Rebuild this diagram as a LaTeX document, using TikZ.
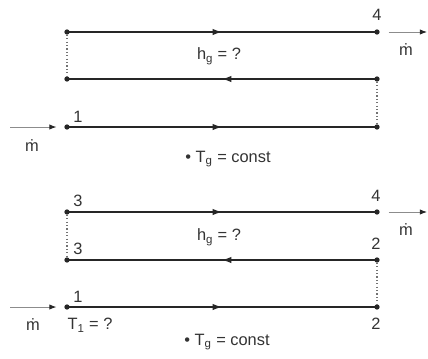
\documentclass[tikz,border=0pt]{standalone}
\usepackage{fontspec}
\setmainfont{Liberation Sans}
\usetikzlibrary{arrows.meta,decorations.markings}

\tikzset{
  pipe/.style={line width=1.1pt, black!85, postaction={decorate},
    decoration={markings, mark=at position 0.5 with {\arrow{Latex[length=8pt,width=5.5pt]}}}},
  feed/.style={black!45, line width=0.8pt, -{Latex[length=6pt,width=4.5pt,black!85]}},
  link/.style={black!55, dotted, line width=0.9pt},
  pt/.style={circle, fill=black!85, inner sep=0pt, minimum size=4.5pt},
  lbl/.style={text=black!80, font=\fontsize{14}{16}\selectfont, inner sep=1pt},
}

\begin{document}
\begin{tikzpicture}[x=0.03cm, y=-0.03cm]
    \useasboundingbox (0,0) rectangle (428,358);
    % Upper exchanger
    \node[pt] (a1) at (67,32) {};
    \node[pt] (a4) at (377,32) {};
    \node[pt] (b1) at (67,79) {};
    \node[pt] (b2) at (377,79) {};
    \node[pt] (c1) at (67,127) {};
    \node[pt] (c2) at (377,127) {};
    \draw[pipe] (a1.center) -- (a4.center);
    \draw[pipe] (b2.center) -- (b1.center);
    \draw[pipe] (c1.center) -- (c2.center);
    \draw[link] (a1) -- (b1);
    \draw[link] (b2) -- (c2);
    % Mass flow in and out
    \coordinate (inA) at (10,127);
    \coordinate (outA) at (427,32);
    \draw[feed, shorten >=9pt] (inA) -- (c1.center);
    \draw[feed, shorten <=10pt] (a4.center) -- (outA);
    \node[lbl] (mA) at (32,146) {\.{m}};
    \node[lbl] (mA2) at (406,50) {\.{m}};
    % Labels
    \node[lbl] (nA4) at (377,15) {4};
    \node[lbl] (nA1) at (78,117) {1};
    \node[lbl] (hA) at (219,56) {h\textsubscript{g} = ?};
    \node[lbl] (tA) at (228,159) {\textbullet\ T\textsubscript{g} = const};

    % Lower exchanger
    \node[pt] (d1) at (67,212) {};
    \node[pt] (d4) at (377,212) {};
    \node[pt] (e1) at (67,260) {};
    \node[pt] (e2) at (377,260) {};
    \node[pt] (f1) at (67,307) {};
    \node[pt] (f2) at (377,307) {};
    \draw[pipe] (d1.center) -- (d4.center);
    \draw[pipe] (e2.center) -- (e1.center);
    \draw[pipe] (f1.center) -- (f2.center);
    \draw[link] (d1) -- (e1);
    \draw[link] (e2) -- (f2);
    % Mass flow in and out
    \coordinate (inB) at (10,307);
    \coordinate (outB) at (427,212);
    \draw[feed, shorten >=9pt] (inB) -- (f1.center);
    \draw[feed, shorten <=10pt] (d4.center) -- (outB);
    \node[lbl] (mB) at (33,325) {\.{m}};
    \node[lbl] (mB2) at (406,230) {\.{m}};
    % Labels
    \node[lbl] (nB3) at (78,201) {3};
    \node[lbl] (nB3b) at (78,249) {3};
    \node[lbl] (nB4) at (376,196) {4};
    \node[lbl] (nB2) at (376,244) {2};
    \node[lbl] (nB2b) at (376,324) {2};
    \node[lbl] (nB1) at (78,297) {1};
    \node[lbl] (T1) at (90,325) {T\textsubscript{1} = ?};
    \node[lbl] (hB) at (219,237) {h\textsubscript{g} = ?};
    \node[lbl] (tB) at (227,342) {\textbullet\ T\textsubscript{g} = const};
\end{tikzpicture}
\end{document}
